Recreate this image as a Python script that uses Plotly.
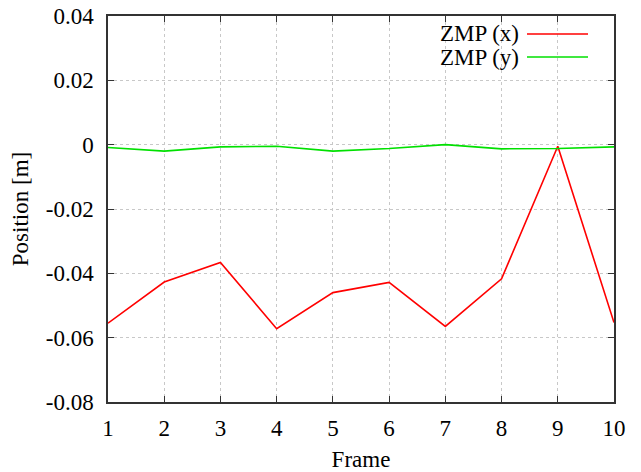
import plotly.graph_objects as go

frames = [1, 2, 3, 4, 5, 6, 7, 8, 9, 10]
zmp_x = [-0.0555, -0.0427, -0.0366, -0.0572, -0.0460, -0.0428, -0.0565, -0.0417, -0.0005, -0.0553]
zmp_y = [-0.0009, -0.0020, -0.0007, -0.0005, -0.0020, -0.0012, 0.0000, -0.0013, -0.0012, -0.0007]
y_ticks = [0.04, 0.02, 0, -0.02, -0.04, -0.06, -0.08]
y_tick_text = ["0.04", "0.02", "0", "-0.02", "-0.04", "-0.06", "-0.08"]
series_names = ["ZMP (x)", "ZMP (y)"]
colors = ["#ff0000", "#00e000"]

# page body adds an 8px offset; plot area target (screen px): left 108, right 614, top 16, bottom 402
OFF = 8
SL, SR, ST, SB = 108, 614, 16, 402
L, R, T, B = SL - OFF, SR - OFF, ST - OFF, SB - OFF
W, H = 641, 472
pw, ph = R - L, B - T

font = "Liberation Serif, Times New Roman, serif"
fs = 23
fig = go.Figure()
fig.add_trace(go.Scatter(x=frames, y=zmp_x, mode="lines", line=dict(color=colors[0], width=1.6),
                         name=series_names[0], showlegend=False))
fig.add_trace(go.Scatter(x=frames, y=zmp_y, mode="lines", line=dict(color=colors[1], width=1.6),
                         name=series_names[1], showlegend=False))

# legend drawn manually: text left of line sample (screen px positions)
legend_rows = [34, 57]
for i, (name, c) in enumerate(zip(series_names, colors)):
    yp = 1 - (legend_rows[i] - ST) / ph
    fig.add_annotation(x=(521 - SL) / pw, y=yp, xref="paper", yref="paper", text=name,
                       showarrow=False, xanchor="right", yanchor="middle",
                       font=dict(family=font, size=fs, color="black"))
    fig.add_shape(type="line", xref="paper", yref="paper", x0=(527 - SL) / pw, x1=(588 - SL) / pw,
                  y0=yp, y1=yp, line=dict(color=c, width=1.6))

fig.update_layout(
    width=W, height=H,
    margin=dict(l=L, r=W - R, t=T, b=H - B, autoexpand=False),
    plot_bgcolor="white", paper_bgcolor="white",
    font=dict(family=font, size=fs, color="black"),
)
axis_style = dict(ticks="inside", ticklen=6, mirror="ticks", showline=True, linecolor="#333",
                  linewidth=1.5, tickcolor="#333", showgrid=True, gridcolor="#c8c8c8",
                  griddash="dot", zeroline=False, automargin=False, ticklabeloverflow="allow",
                  tickfont=dict(family=font, size=fs, color="black"))
fig.update_xaxes(range=[1, 10], tickvals=frames,
                 title=dict(text="Frame", standoff=11, font=dict(family=font, size=fs)),
                 ticklabelstandoff=5, **axis_style)
fig.update_yaxes(range=[-0.08, 0.04], tickvals=y_ticks, ticktext=y_tick_text,
                 title=dict(text="Position [m]", standoff=12, font=dict(family=font, size=fs)),
                 ticklabelstandoff=8, **axis_style)

fig.write_html("out.html")
